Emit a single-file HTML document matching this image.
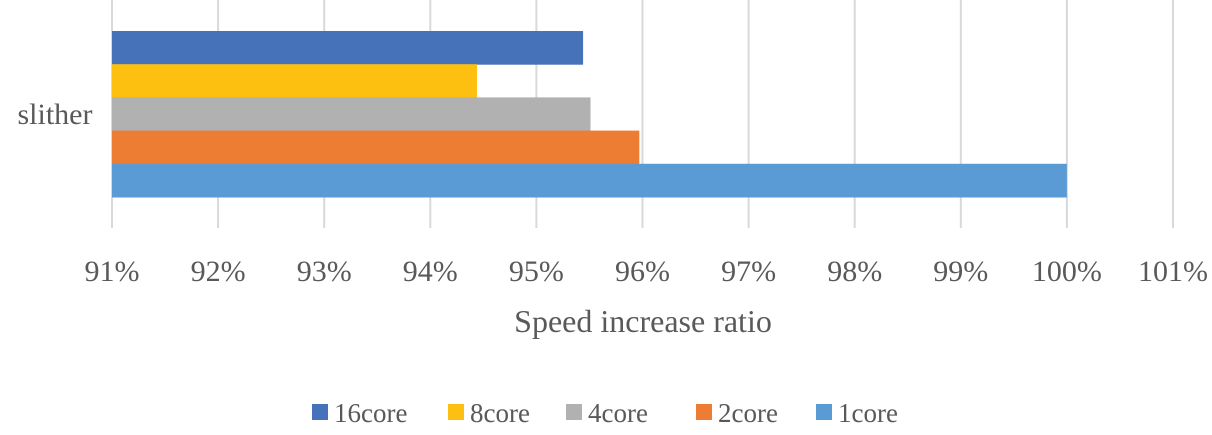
<!DOCTYPE html>
<html><head><meta charset="utf-8"><style>
html,body{margin:0;padding:0;background:#fff;}
svg{display:block;font-family:"Liberation Serif",serif;}
</style></head><body>
<svg id="chart" width="1212" height="435">
<g id="grid"></g><g id="bars"></g><g id="ticks"></g><g id="legend"></g>
<text x="55" y="124" font-size="30" fill="#595959" text-anchor="middle">slither</text>
<text x="643" y="332" font-size="32" fill="#595959" text-anchor="middle">Speed increase ratio</text>
</svg>
<script>
const categories = ["slither"];
const seriesNames = ["16core","8core","4core","2core","1core"];
const seriesValues = [95.44, 94.44, 95.51, 95.97, 100];
const seriesColors = ["#4672b9","#fdc011","#b1b1b1","#ec7d33","#5b9bd5"];
const tickValues = [91,92,93,94,95,96,97,98,99,100,101];
const tickLabels = ["91%","92%","93%","94%","95%","96%","97%","98%","99%","100%","101%"];
const NS="http://www.w3.org/2000/svg";
const x0=112, pxPer=106.1, xMin=91;
function xs(v){return x0+(v-xMin)*pxPer;}
const barTop=31, barH=33.2;
function ys(i){return barTop+i*barH;}
const grid=document.getElementById('grid');
tickValues.forEach((t,i)=>{
  const l=document.createElementNS(NS,'line');
  l.setAttribute('x1',xs(t));l.setAttribute('x2',xs(t));l.setAttribute('y1',0);l.setAttribute('y2',228);
  l.setAttribute('stroke','#d9d9d9');l.setAttribute('stroke-width','2');
  
  
  grid.appendChild(l);
  const tx=document.createElementNS(NS,'text');
  tx.setAttribute('x',xs(t));tx.setAttribute('y',281);tx.setAttribute('font-size','30');
  tx.setAttribute('fill','#595959');tx.setAttribute('text-anchor','middle');
  tx.textContent=tickLabels[i];
  
  
  document.getElementById('ticks').appendChild(tx);
});
const bars=document.getElementById('bars');
seriesValues.forEach((v,i)=>{
  const r=document.createElementNS(NS,'rect');
  r.setAttribute('x',x0);r.setAttribute('y',ys(i));
  r.setAttribute('width',Math.max(0,xs(v)-x0));r.setAttribute('height',barH+0.5);
  r.setAttribute('fill',seriesColors[i]);
  
  
  bars.appendChild(r);
});
const legend=document.getElementById('legend');
const legX=[312,448,566,696,816];
seriesNames.forEach((n,i)=>{
  const g=document.createElementNS(NS,'g');
  
  
  const s=document.createElementNS(NS,'rect');
  s.setAttribute('x',legX[i]);s.setAttribute('y',404);s.setAttribute('width',16);s.setAttribute('height',16);
  s.setAttribute('fill',seriesColors[i]);
  const t=document.createElementNS(NS,'text');
  t.setAttribute('x',legX[i]+22);t.setAttribute('y',422);t.setAttribute('font-size','27');t.setAttribute('fill','#595959');
  t.textContent=n;
  g.appendChild(s);g.appendChild(t);legend.appendChild(g);
});
</script>
</body></html>
